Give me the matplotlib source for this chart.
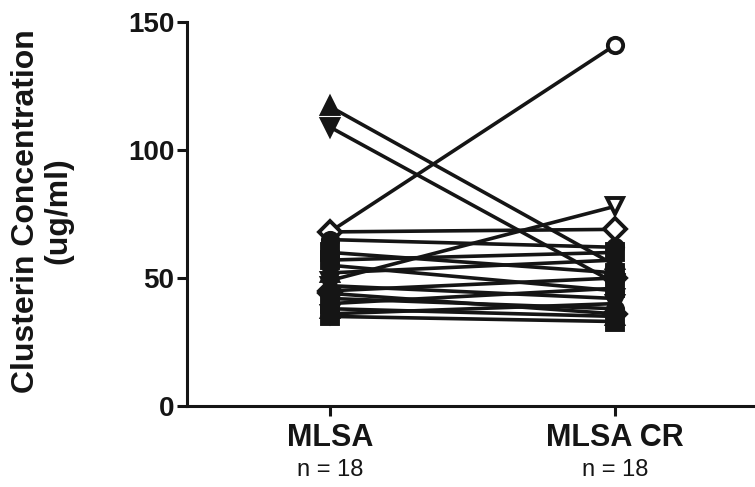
import matplotlib
matplotlib.use("Agg")
import matplotlib.pyplot as plt
import matplotlib.transforms as mtransforms

plt.rcParams['font.family'] = ['Liberation Sans', 'DejaVu Sans']

groups = ["MLSA", "MLSA CR"]
n_labels = ["n = 18", "n = 18"]
mlsa = [117, 109, 68, 49, 68, 65, 57, 55, 60, 52, 47, 45, 42, 40, 38, 36, 35, 44]
mlsa_cr = [55, 48, 141, 78, 69, 62, 60, 45, 52, 57, 42, 50, 38, 46, 35, 40, 33, 36]
markers = ['^', 'v', 'o', 'v', 'D', 'o', 's', 'o', 's', '^', 'v', 'D', 'o', 's', '^', 'v', 's', 'D']
filled = [True, True, False, False, False, True, True, True, True, True, True, True, True, True, True, True, True, True]
yticks = [0, 50, 100, 150]

fig = plt.figure(figsize=(7.55, 4.87), dpi=100)
ax = fig.add_axes([187/755, 81/487, 1 - 187/755, 384/487])

col = '#151515'
for a, b, m, f in zip(mlsa, mlsa_cr, markers, filled):
    ax.plot([0, 1], [a, b], color=col, lw=2.6, marker=m, markersize=11,
            markerfacecolor=col if f else 'white', markeredgecolor=col,
            markeredgewidth=2.8, solid_capstyle='butt', clip_on=False)

ax.set_xlim(-0.5, 1.49)
ax.set_ylim(0, 150)
ax.set_yticks(yticks)
ax.set_yticklabels([str(t) for t in yticks], fontsize=20, fontweight='bold')
ax.set_xticks([0, 1])
ax.set_xticklabels(groups, fontsize=22, fontweight='bold')
for s in ['top', 'right']:
    ax.spines[s].set_visible(False)
for s in ['left', 'bottom']:
    ax.spines[s].set_linewidth(2.2)
    ax.spines[s].set_color(col)
ax.tick_params(axis='both', direction='out', length=7, width=2.2, color=col, labelcolor=col)
ax.tick_params(axis='x', pad=5)
ax.tick_params(axis='y', pad=2)

trans = mtransforms.blended_transform_factory(ax.transData, fig.transFigure)
for i, t in enumerate(n_labels):
    ax.text(i, 1 - 470/487, t, transform=trans, ha='center', va='center', fontsize=17, color=col)

fig.text(42/755, 1 - 211/487, "Clusterin Concentration\n(ug/ml)", rotation=90,
         ha='center', va='center', multialignment='center',
         fontsize=23, fontweight='bold', color=col, linespacing=1.1)

fig.savefig("out.png", dpi=100)
